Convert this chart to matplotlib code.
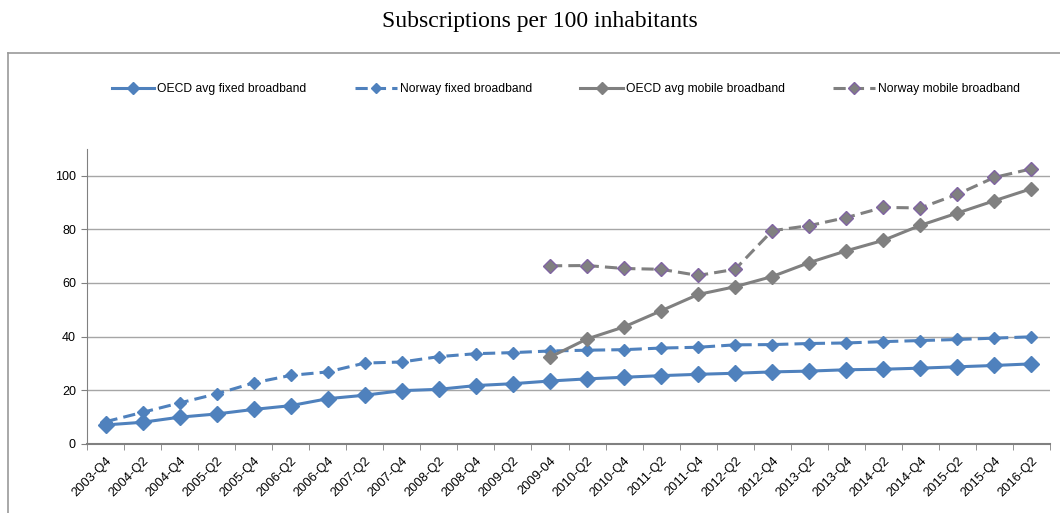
import numpy as np
import matplotlib
matplotlib.use('Agg')
import matplotlib.pyplot as plt
from matplotlib.lines import Line2D

plt.rcParams['font.family'] = ['Liberation Sans', 'DejaVu Sans']

quarters = ['2003-Q4', '2004-Q2', '2004-Q4', '2005-Q2', '2005-Q4', '2006-Q2', '2006-Q4',
            '2007-Q2', '2007-Q4', '2008-Q2', '2008-Q4', '2009-Q2', '2009-04', '2010-Q2',
            '2010-Q4', '2011-Q2', '2011-Q4', '2012-Q2', '2012-Q4', '2013-Q2', '2013-Q4',
            '2014-Q2', '2014-Q4', '2015-Q2', '2015-Q4', '2016-Q2']

oecd_fixed = [7.0, 8.0, 9.9, 11.1, 12.8, 14.2, 16.8, 18.1, 19.8, 20.3, 21.7, 22.4, 23.4,
              24.2, 24.8, 25.4, 25.9, 26.3, 26.8, 27.1, 27.6, 27.8, 28.2, 28.7, 29.2, 29.8]
norway_fixed = [8.2, 11.7, 15.2, 18.6, 22.7, 25.5, 26.8, 30.1, 30.5, 32.5, 33.6, 34.0, 34.6,
                34.9, 35.1, 35.7, 36.0, 36.9, 37.0, 37.4, 37.6, 38.1, 38.5, 38.9, 39.4, 39.9]
nan = np.nan
oecd_mobile = [nan] * 12 + [32.3, 39.1, 43.6, 49.6, 55.7, 58.6, 62.4, 67.6, 72.0, 75.9,
                            81.5, 86.1, 90.7, 95.2]
norway_mobile = [nan] * 12 + [66.4, 66.5, 65.4, 65.1, 62.8, 65.1, 79.5, 81.4, 84.4, 88.2,
                              88.0, 93.1, 99.4, 102.6]

blue = '#4F81BD'
grey = '#808080'
purple = '#8064A2'

fig = plt.figure(figsize=(10.6, 5.13), dpi=100)
ax = fig.add_axes([87 / 1060, 1 - 443.7 / 513, (1050 - 87) / 1060, (443.7 - 149) / 513])

x = np.arange(len(quarters))
ax.plot(x, oecd_fixed, color=blue, lw=2.2, marker='D', ms=8, mec=blue,
        label='OECD avg fixed broadband', zorder=3)
ax.plot(x, norway_fixed, color=blue, lw=2.2, ls=(0, (4, 2)), marker='D', ms=6.5, mec=blue,
        label='Norway fixed broadband', zorder=4)
ax.plot(x, oecd_mobile, color=grey, lw=2.2, marker='D', ms=7.5, mec=grey,
        label='OECD avg mobile broadband', zorder=5)
ax.plot(x, norway_mobile, color=grey, lw=2.2, ls=(0, (4, 2)), marker='D', ms=7.5,
        mfc=grey, mec=purple, mew=1, label='Norway mobile broadband', zorder=6)

ax.set_xlim(-0.5, len(quarters) - 0.5)
ax.set_ylim(0, 110)
ax.set_yticks([0, 20, 40, 60, 80, 100])
ax.yaxis.grid(True, color='#A6A6A6', lw=1)
ax.set_axisbelow(True)

ax.set_xticks(x)
ax.set_xticklabels(quarters, rotation=45, ha='right', rotation_mode='anchor', fontsize=9.3)
ax.set_xticks(np.arange(len(quarters) + 1) - 0.5, minor=True)
ax.tick_params(axis='x', which='major', length=0, pad=8)
ax.tick_params(axis='x', which='minor', length=4, color='#808080')
ax.tick_params(axis='y', length=4, color='#808080', pad=4, labelsize=9)

for s in ['top', 'right']:
    ax.spines[s].set_visible(False)
for s in ['left', 'bottom']:
    ax.spines[s].set_color('#808080')
ax.spines['bottom'].set_linewidth(1.5)

fig.legend(loc='center', bbox_to_anchor=(566 / 1060, 1 - 89 / 513), ncol=4, frameon=False,
           fontsize=8.7, handlelength=3.5, handletextpad=0.25, columnspacing=4.0,
           markerscale=0.8)

# chart border (left and top only, the rest is cropped)
fig.add_artist(Line2D([8 / 1060, 8 / 1060], [0, 1 - 53 / 513], color='#999999', lw=1.2))
fig.add_artist(Line2D([8 / 1060, 1], [1 - 53 / 513, 1 - 53 / 513], color='#999999', lw=1.2))

fig.text(540 / 1060, 1 - 22 / 513, 'Subscriptions per 100 inhabitants', ha='center',
         va='center', fontsize=17, family='Liberation Serif')

fig.savefig('out.png', dpi=100)
